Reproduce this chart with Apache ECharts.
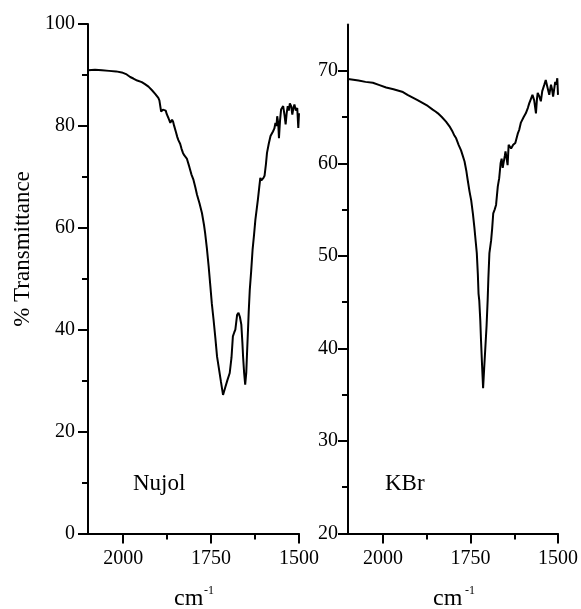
<!DOCTYPE html>
<html>
<head>
<meta charset="utf-8">
<script src="https://cdn.jsdelivr.net/npm/echarts@6/dist/echarts.min.js"></script>
<style>
  html, body { margin: 0; padding: 0; background: #fff; }
  #chart { width: 581px; height: 609px; }
</style>
</head>
<body>
<div id="chart"></div>
<script>
// Nujol mull spectrum (wavenumber cm-1, % transmittance)
const nujolWn = [2100, 2080, 2060, 2040, 2020, 2004, 1990, 1980, 1971, 1960, 1947, 1938, 1928, 1918, 1909,
  1900, 1897, 1892, 1887, 1883, 1879, 1876, 1871, 1866, 1861, 1858, 1855, 1850, 1846, 1843, 1838, 1834,
  1830, 1826, 1819, 1812, 1806, 1800, 1795, 1790, 1783, 1776, 1770, 1767, 1762, 1757, 1752, 1748, 1743,
  1738, 1733, 1728, 1722, 1716, 1710, 1704, 1697, 1692, 1688, 1684, 1681, 1676, 1672, 1668, 1664, 1661,
  1659, 1656, 1653, 1650, 1648, 1645, 1643, 1640, 1636, 1632, 1628, 1624, 1620, 1617, 1613, 1610, 1607,
  1605, 1601, 1598, 1594, 1591, 1586, 1581, 1577, 1574, 1570, 1567, 1564, 1562, 1559, 1557, 1554, 1551,
  1548, 1545, 1541, 1538, 1535, 1532, 1529, 1526, 1522, 1519, 1516, 1513, 1509, 1505, 1502, 1500];
const nujolT = [90.9, 91.0, 90.9, 90.8, 90.7, 90.5, 90.1, 89.6, 89.3, 88.9, 88.6, 88.2, 87.7, 87.0, 86.3,
  85.5, 85.0, 82.8, 83.2, 83.5, 83.0, 82.3, 81.5, 80.6, 81.2, 80.8, 80.0, 78.8, 77.8, 77.2, 76.5, 75.5,
  74.7, 74.2, 73.6, 72.0, 70.5, 69.4, 68.0, 66.5, 64.8, 62.9, 60.5, 59.0, 56.0, 52.5, 48.5, 45.2, 42.0,
  38.5, 34.7, 32.5, 29.8, 27.2, 28.6, 30.0, 31.5, 34.5, 38.7, 39.5, 40.0, 42.9, 43.3, 42.5, 41.0, 37.5,
  34.7, 31.5, 29.2, 31.5, 35.0, 40.0, 43.5, 47.8, 51.5, 55.7, 58.5, 61.6, 63.8, 65.5, 68.0, 69.8, 69.3,
  69.0, 69.8, 70.2, 72.5, 74.7, 76.5, 78.0, 78.2, 78.9, 79.5, 80.6, 80.0, 81.9, 80.5, 77.6, 81.0, 83.2,
  83.5, 83.9, 82.0, 80.3, 82.5, 83.9, 83.0, 84.4, 83.8, 82.2, 83.5, 84.2, 83.0, 83.5, 79.6, 82.5];

// KBr pellet spectrum
const kbrWn = [2100, 2070, 2050, 2029, 2010, 1991, 1970, 1943, 1930, 1915, 1900, 1886, 1872, 1858, 1850,
  1843, 1838, 1832, 1820, 1810, 1801, 1796, 1791, 1784, 1777, 1772, 1767, 1762, 1758, 1753, 1748, 1743,
  1739, 1735, 1732, 1729, 1727, 1725, 1722, 1720, 1717, 1714, 1711, 1708, 1704, 1701, 1699, 1696, 1691,
  1688, 1685, 1681, 1677, 1672, 1668, 1664, 1661, 1658, 1655, 1652, 1650, 1647, 1644, 1641, 1637, 1634,
  1628, 1622, 1615, 1611, 1606, 1598, 1592, 1586, 1582, 1577, 1573, 1568, 1563, 1560, 1558, 1553, 1549,
  1545, 1539, 1535, 1530, 1525, 1520, 1517, 1514, 1511, 1508, 1505, 1502, 1500];
const kbrT = [69.1, 68.95, 68.8, 68.7, 68.45, 68.2, 68.0, 67.7, 67.4, 67.1, 66.8, 66.5, 66.2, 65.8, 65.6,
  65.4, 65.6, 65.0, 64.5, 64.0, 63.4, 63.0, 62.7, 62.0, 61.4, 60.8, 60.2, 59.2, 58.2, 57.0, 56.0, 54.5,
  53.1, 51.5, 50.3, 48.0, 45.9, 45.2, 43.0, 40.9, 38.2, 35.7, 37.8, 39.8, 42.5, 45.2, 47.5, 50.3, 51.7,
  53.0, 54.6, 55.0, 55.5, 57.5, 58.4, 60.0, 60.5, 59.5, 59.6, 60.8, 61.3, 60.6, 59.8, 62.0, 61.8, 61.6,
  62.0, 62.2, 63.2, 63.6, 64.4, 65.0, 65.4, 66.0, 66.5, 67.0, 67.4, 66.8, 65.4, 67.0, 67.6, 67.2, 66.7,
  67.8, 68.5, 69.0, 68.2, 67.4, 68.5, 68.0, 67.2, 68.0, 68.8, 68.5, 69.2, 67.4];

const xMajor = [2000, 1750, 1500];
const xMinor = [1875, 1625];
const nujolMajor = [0, 20, 40, 60, 80, 100];
const nujolMinor = [10, 30, 50, 70, 90];
const kbrMajor = [20, 30, 40, 50, 60, 70];
const kbrMinor = [25, 35, 45, 55, 65];

const font = 'Liberation Serif';
const black = '#000';
const plain = v => String(v);

const xAxisFor = (grid, ticks, len, main) => ({
  type: 'value', gridIndex: grid, inverse: true, min: 1500, max: 2100, position: 'bottom',
  axisLine: { show: main, onZero: false, lineStyle: { color: black, width: 2 } },
  axisTick: { show: true, customValues: ticks, length: len, lineStyle: { color: black, width: 2 } },
  axisLabel: { show: main, customValues: ticks, margin: 15, color: black, fontFamily: font, fontSize: 20, formatter: plain },
  splitLine: { show: false }
});

const yAxisFor = (grid, min, max, ticks, len, main, margin) => ({
  type: 'value', gridIndex: grid, min: min, max: max, position: 'left',
  axisLine: { show: main, onZero: false, lineStyle: { color: black, width: 2 } },
  axisTick: { show: true, customValues: ticks, length: len, lineStyle: { color: black, width: 2 } },
  axisLabel: { show: main, customValues: ticks, margin: margin, color: black, fontFamily: font, fontSize: 20, formatter: plain },
  splitLine: { show: false }
});

const zip = (xs, ys) => xs.map((x, i) => [x, ys[i]]);

const chart = echarts.init(document.getElementById('chart'));

const txt = (text, x, y, size) => ({
  type: 'text', x: x, y: y,
  style: { text: text, fill: black, font: size + 'px "' + font + '"', textVerticalAlign: 'top' }
});

chart.setOption({
  animation: false,
  backgroundColor: '#fff',
  grid: [
    { left: 88, top: 24, width: 211, height: 509.5 },
    { left: 348, top: 24.5, width: 211, height: 509 }
  ],
  xAxis: [
    xAxisFor(0, xMajor, 10, true),
    xAxisFor(0, xMinor, 6, false),
    xAxisFor(1, xMajor, 10, true),
    xAxisFor(1, xMinor, 6, false)
  ],
  yAxis: [
    yAxisFor(0, 0, 100, nujolMajor, 10, true, 13),
    yAxisFor(0, 0, 100, nujolMinor, 6, false, 13),
    yAxisFor(1, 20, 75, kbrMajor, 10, true, 10),
    yAxisFor(1, 20, 75, kbrMinor, 6, false, 10)
  ],
  series: [
    {
      name: 'Nujol', type: 'line', xAxisIndex: 0, yAxisIndex: 0,
      data: zip(nujolWn, nujolT), showSymbol: false, symbol: 'none',
      lineStyle: { color: black, width: 2 }
    },
    {
      name: 'KBr', type: 'line', xAxisIndex: 2, yAxisIndex: 2,
      data: zip(kbrWn, kbrT), showSymbol: false, symbol: 'none',
      lineStyle: { color: black, width: 2 }
    }
  ],
  graphic: [
    {
      type: 'text', x: 23, y: 249, rotation: Math.PI / 2,
      style: { text: '% Transmittance', fill: black, font: '23px "' + font + '"', textAlign: 'center', textVerticalAlign: 'middle' }
    },
    txt('Nujol', 133, 472, 23),
    txt('KBr', 385, 472, 23),
    txt('cm', 174, 587, 24),
    txt('-1', 204, 585, 12),
    txt('cm', 433, 587, 24),
    txt('-1', 465, 585, 12)
  ]
});
</script>
</body>
</html>
